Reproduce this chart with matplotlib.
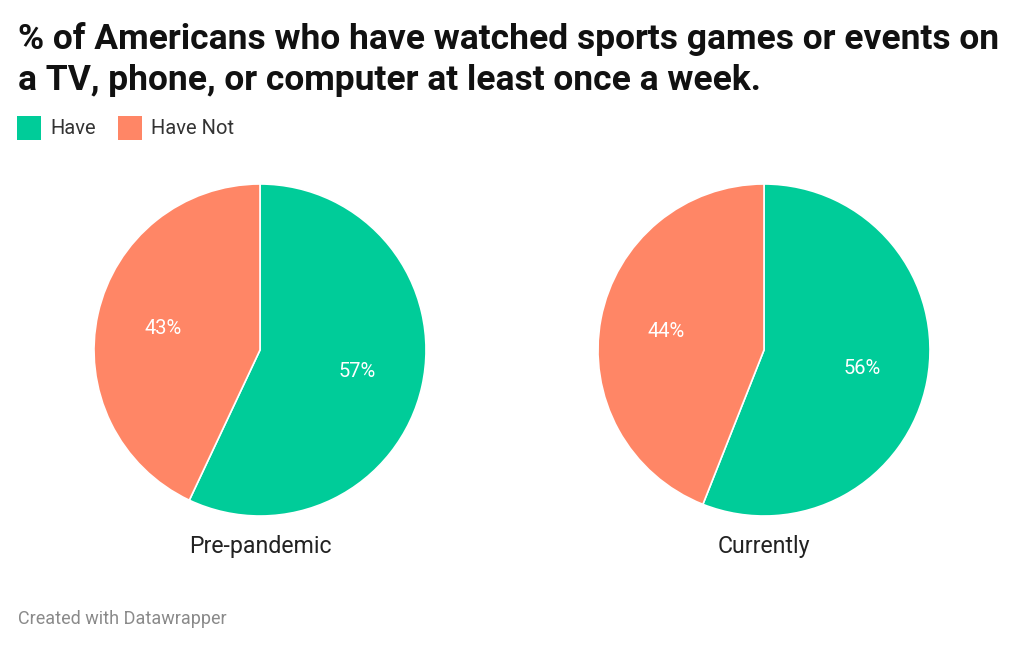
import matplotlib.pyplot as plt
from matplotlib.patches import Rectangle

# data
categories = ["Have", "Have Not"]
periods = ["Pre-pandemic", "Currently"]
pre_pandemic = [57, 43]
currently = [56, 44]
colors = ["#00cc99", "#ff8666"]
title_lines = ["% of Americans who have watched sports games or events on",
               "a TV, phone, or computer at least once a week."]

plt.rcParams['font.family'] = ['Roboto', 'DejaVu Sans']

W, H = 1024, 647
fig = plt.figure(figsize=(W / 100, H / 100), dpi=100)
fig.patch.set_facecolor("white")

# title, one text per line so the baselines sit where they should
for line, base in zip(title_lines, [49, 90]):
    fig.text(18 / W, 1 - base / H, line, fontsize=25.5, fontweight="bold",
             color="#111111", ha="left", va="baseline")

# legend
x = 17
for cat, col in zip(categories, colors):
    fig.patches.append(Rectangle((x / W, 1 - 140 / H), 24 / W, 24 / H,
                                 transform=fig.transFigure, facecolor=col, edgecolor="none"))
    fig.text((x + 33) / W, 1 - 128 / H, cat, fontsize=14.5, color="#333333",
             ha="left", va="center")
    x += 101

# pies
centers = [260, 764]
radius = 166
for cx, vals, name in zip(centers, [pre_pandemic, currently], periods):
    ax = fig.add_axes([(cx - radius) / W, 1 - (350 + radius) / H, 2 * radius / W, 2 * radius / H])
    ax.pie(vals, colors=colors, startangle=90, counterclock=False,
           autopct="%d%%", pctdistance=0.6,
           wedgeprops=dict(edgecolor="white", linewidth=1.2),
           textprops=dict(color="white", fontsize=14.5))
    ax.set_xlim(-1, 1)
    ax.set_ylim(-1, 1)
    ax.set_aspect("auto")
    ax.axis("off")
    fig.text(cx / W, 1 - 547 / H, name, fontsize=16.7, color="#222222", ha="center", va="center")

# footer
fig.text(18 / W, 1 - 619 / H, "Created with Datawrapper", fontsize=13, color="#8a8a8a",
         ha="left", va="center")

fig.savefig("out.png", dpi=100)
